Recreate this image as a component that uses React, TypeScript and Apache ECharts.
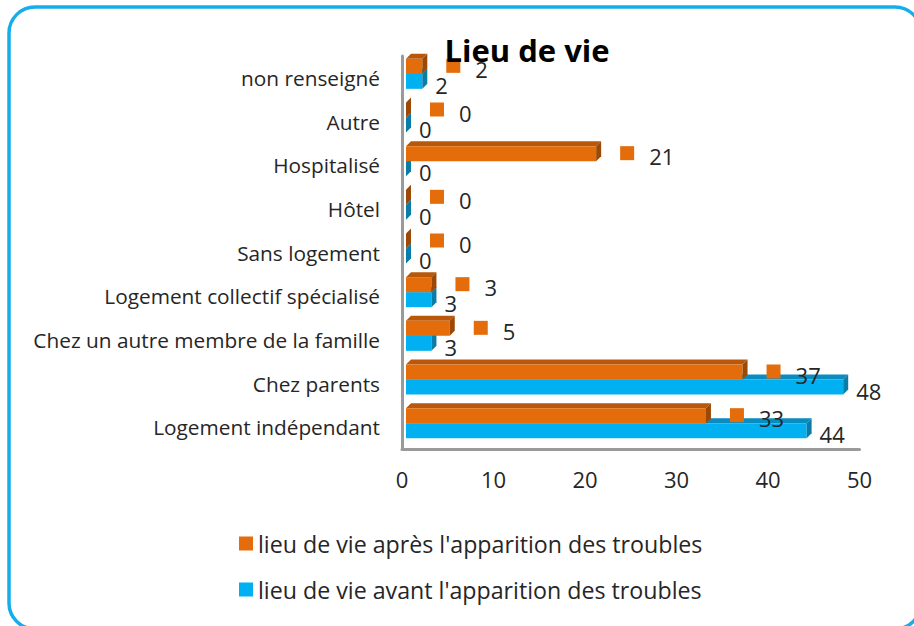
import React, { useEffect, useRef } from "react";
import * as echarts from "echarts";

const categories = [
  "Logement indépendant",
  "Chez parents",
  "Chez un autre membre de la famille",
  "Logement collectif spécialisé",
  "Sans logement",
  "Hôtel",
  "Hospitalisé",
  "Autre",
  "non renseigné",
];
const afterValues = [33, 37, 5, 3, 0, 0, 21, 0, 2];
const beforeValues = [44, 48, 3, 3, 0, 0, 0, 0, 2];
const afterName = "lieu de vie après l'apparition des troubles";
const beforeName = "lieu de vie avant l'apparition des troubles";
const xTicks = { min: 0, max: 50, interval: 10 };

const FONT = "'Open Sans', sans-serif";

const palette = {
  after: { front: "#E46C0A", top: "#B9570A", side: "#9C4907" },
  before: { front: "#00B0F0", top: "#0A8CC0", side: "#0A7CA8" },
};

function makeRender(kind: "after" | "before") {
  return (params: any, api: any) => {
    const catIdx = api.value(1);
    const val = api.value(0);
    const p0 = api.coord([0, catIdx]);
    const p1 = api.coord([val, catIdx]);
    const cy = p0[1];
    const x0 = p0[0] + 4;
    const x1 = Math.max(x0, p1[0] + 2);
    const h = 15;
    const dx = 5;
    const dy = 5;
    const top = kind === "after" ? cy - 19 : cy - 4;
    const bot = top + h;
    const c = palette[kind];
    const children: any[] = [
      {
        type: "polygon",
        shape: { points: [[x0, top], [x1, top], [x1 + dx, top - dy], [x0 + dx, top - dy]] },
        style: { fill: c.top },
      },
      {
        type: "rect",
        shape: { x: x0, y: top, width: x1 - x0, height: h },
        style: { fill: c.front },
      },
      {
        type: "polygon",
        shape: { points: [[x1, top], [x1 + dx, top - dy], [x1 + dx, bot - dy], [x1, bot]] },
        style: { fill: c.side },
      },
    ];
    if (kind === "after") {
      children.push({
        type: "rect",
        shape: { x: x1 + 24, y: cy - 19, width: 14, height: 14 },
        style: { fill: c.front },
      });
      children.push({
        type: "text",
        style: {
          text: String(val),
          x: x1 + 53,
          y: cy - 9,
          fill: "#262626",
          fontSize: 22,
          fontFamily: FONT,
          verticalAlign: "middle",
          align: "left",
        },
      });
    } else {
      children.push({
        type: "text",
        style: {
          text: String(val),
          x: x1 + 13,
          y: cy + 7,
          fill: "#262626",
          fontSize: 22,
          fontFamily: FONT,
          verticalAlign: "middle",
          align: "left",
        },
      });
    }
    return { type: "group", children };
  };
}

export default function App() {
  const ref = useRef<HTMLDivElement>(null);
  useEffect(() => {
    if (!ref.current) return;
    const chart = echarts.init(ref.current, null, { renderer: "svg" });
    chart.setOption({
      animation: false,
      backgroundColor: "#ffffff",
      title: {
        text: "Lieu de vie",
        left: 522,
        top: 29,
        textAlign: "center",
        textStyle: { fontFamily: FONT, fontWeight: "bold", fontSize: 31, color: "#000" },
      },
      graphic: [
        {
          type: "rect",
          shape: { x: 9, y: 7, width: 912, height: 622, r: 26 },
          style: { fill: "none", stroke: "#16AEEA", lineWidth: 3.5 },
          z: 100,
        },
      ],
      grid: { left: 402, right: 54.5, top: 56, bottom: 177, containLabel: false },
      xAxis: {
        type: "value",
        min: xTicks.min,
        max: xTicks.max,
        interval: xTicks.interval,
        axisLine: { show: true, lineStyle: { color: "#9a9a9a", width: 3 } },
        axisTick: { show: false },
        splitLine: { show: false },
        axisLabel: { fontFamily: FONT, fontSize: 22, color: "#262626", margin: 19 },
      },
      yAxis: {
        type: "category",
        data: categories,
        axisLine: { show: true, lineStyle: { color: "#9a9a9a", width: 3 } },
        axisTick: { show: false },
        axisLabel: { fontFamily: FONT, fontSize: 20.8, color: "#262626", margin: 22 },
      },
      legend: {
        orient: "vertical",
        left: 234,
        top: 527,
        itemGap: 23,
        itemWidth: 14,
        itemHeight: 14,
        icon: "rect",
        data: [afterName, beforeName],
        textStyle: { fontFamily: FONT, fontSize: 23.2, color: "#262626" },
      },
      series: [
        {
          name: beforeName,
          type: "custom",
          renderItem: makeRender("before"),
          itemStyle: { color: palette.before.front },
          encode: { x: 0, y: 1 },
          data: beforeValues.map((v, i) => [v, i]),
          clip: false,
        },
        {
          name: afterName,
          type: "custom",
          renderItem: makeRender("after"),
          itemStyle: { color: palette.after.front },
          encode: { x: 0, y: 1 },
          data: afterValues.map((v, i) => [v, i]),
          clip: false,
        },
      ],
    });
    return () => chart.dispose();
  }, []);
  return (
    <div
      ref={ref}
      style={{ position: "fixed", left: 0, top: 0, width: 914, height: 626 }}
    />
  );
}
